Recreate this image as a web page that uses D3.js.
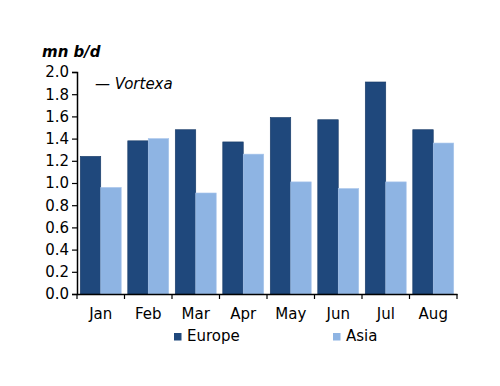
<!DOCTYPE html>
<html>
<head>
<meta charset="utf-8">
<script src="https://cdn.jsdelivr.net/npm/d3@7"></script>
<style>
  body { margin: 0; background: #fff; }
  text { font-family: "DejaVu Sans", sans-serif; fill: #000; }
</style>
</head>
<body>
<div id="chart"></div>
<script>
var months = ["Jan", "Feb", "Mar", "Apr", "May", "Jun", "Jul", "Aug"];
var europe = [1.24, 1.38, 1.48, 1.37, 1.59, 1.57, 1.91, 1.48];
var asia = [0.96, 1.40, 0.91, 1.26, 1.01, 0.95, 1.01, 1.36];
var yTicks = [0, 0.2, 0.4, 0.6, 0.8, 1.0, 1.2, 1.4, 1.6, 1.8, 2.0];
var seriesNames = ["Europe", "Asia"];
var colors = ["#1f487c", "#8eb4e3"];

var w = 500, h = 386;
var svg = d3.select("#chart").append("svg")
  .attr("width", w).attr("height", h);

var x = d3.scaleBand().domain(months).range([77, 457]).paddingInner(0).paddingOuter(0);
var y = d3.scaleLinear().domain([0, 2]).range([294, 72]);
var inner = d3.scaleBand().domain(seriesNames).range([0, x.bandwidth()]).paddingOuter(0.16);

// bars
var groups = svg.selectAll("g.month")
  .data(months)
  .enter().append("g")
  .attr("class", "month")
  .attr("transform", function(d) { return "translate(" + x(d) + ",0)"; });

groups.selectAll("rect")
  .data(function(d, i) { return [{s: 0, v: europe[i]}, {s: 1, v: asia[i]}]; })
  .enter().append("rect")
  .attr("x", function(d) { return inner(seriesNames[d.s]); })
  .attr("y", function(d) { return y(d.v); })
  .attr("width", inner.bandwidth())
  .attr("height", function(d) { return y(0) - y(d.v); })
  .attr("fill", function(d) { return colors[d.s]; })
  .attr("stroke", function(d) { return d.s == 0 ? "#173a66" : "#a9c6ec"; })
  .attr("stroke-width", 0.6);

// y axis
var yAxis = svg.append("g")
  .attr("transform", "translate(77,0)")
  .call(d3.axisLeft(y).tickValues(yTicks).tickFormat(d3.format(".1f")).tickSize(5).tickPadding(3));
yAxis.select(".domain").attr("stroke", "#000").attr("stroke-width", 1.5);
yAxis.selectAll(".tick line").attr("stroke", "#000").attr("stroke-width", 1.2);
yAxis.selectAll("text").style("font-size", "15px");

// x axis
var xAxis = svg.append("g")
  .attr("transform", "translate(0,294)")
  .call(d3.axisBottom(x).tickSize(0).tickPadding(14));
xAxis.select(".domain").attr("stroke", "#000").attr("stroke-width", 1.5);
xAxis.selectAll("text").style("font-size", "15px");

// tick marks between categories
svg.selectAll("line.xtick")
  .data(months.concat(["end"]))
  .enter().append("line")
  .attr("class", "xtick")
  .attr("x1", function(d, i) { return 77 + i * x.step(); })
  .attr("x2", function(d, i) { return 77 + i * x.step(); })
  .attr("y1", 294).attr("y2", 299)
  .attr("stroke", "#000").attr("stroke-width", 1.2);

// unit label
svg.append("text")
  .attr("x", 42).attr("y", 57)
  .style("font-size", "15px").style("font-weight", "bold").style("font-style", "italic")
  .text("mn b/d");

svg.append("text")
  .attr("x", 95).attr("y", 89)
  .style("font-size", "15px").style("font-style", "italic")
  .text("\u2014 Vortexa");

// legend
var legend = svg.selectAll("g.legend")
  .data(seriesNames)
  .enter().append("g")
  .attr("class", "legend")
  .attr("transform", function(d, i) { return "translate(" + (i == 0 ? 174 : 333) + ",333)"; });
legend.append("rect")
  .attr("width", 7.5).attr("height", 7.5)
  .attr("fill", function(d, i) { return colors[i]; });
legend.append("text")
  .attr("x", 13).attr("y", 8)
  .style("font-size", "15px")
  .text(function(d) { return d; });
</script>
</body>
</html>
